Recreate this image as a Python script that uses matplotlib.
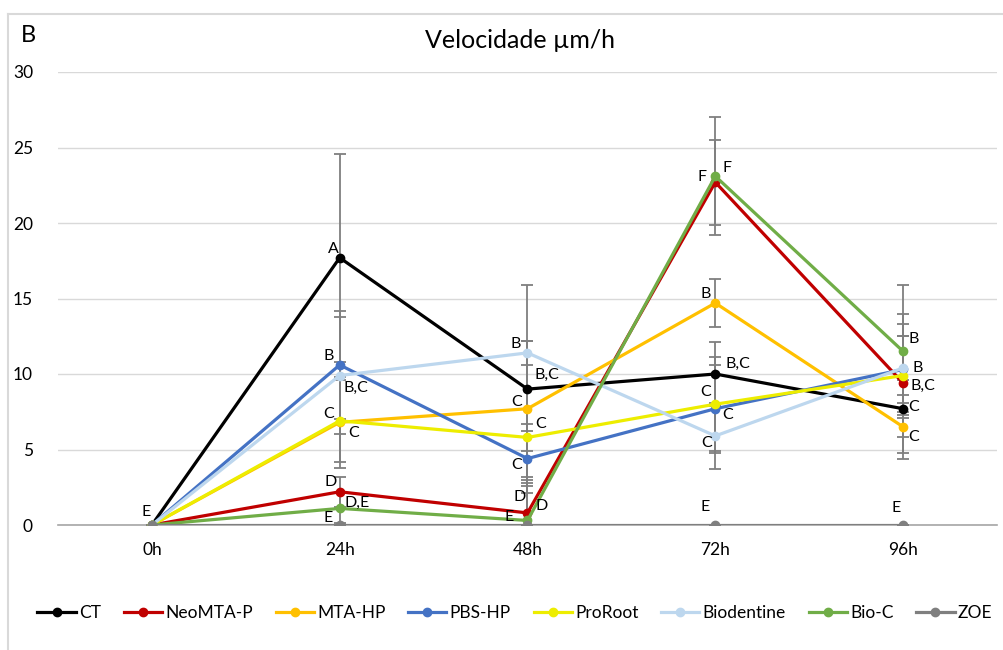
import matplotlib
matplotlib.use("Agg")
import matplotlib.pyplot as plt
from matplotlib.lines import Line2D
import numpy as np

plt.rcParams['font.family'] = ['Lato', 'DejaVu Sans']

categories = ['0h', '24h', '48h', '72h', '96h']
series_names = ['CT', 'NeoMTA-P', 'MTA-HP', 'PBS-HP', 'ProRoot', 'Biodentine', 'Bio-C', 'ZOE']

ct = [0.0, 17.7, 9.0, 10.0, 7.7]
neomta = [0.0, 2.2, 0.8, 22.7, 9.4]
mtahp = [0.0, 6.8, 7.7, 14.7, 6.5]
pbshp = [0.0, 10.6, 4.4, 7.7, 10.3]
proroot = [0.0, 6.9, 5.8, 8.0, 9.9]
biodentine = [0.0, 9.9, 11.4, 5.9, 10.4]
bioc = [0.0, 1.1, 0.3, 23.1, 11.5]
zoe = [0.0, 0.0, 0.0, 0.0, 0.0]

ct_err = [0.0, 6.9, 6.9, 2.1, 1.9]
neomta_err = [0.0, 1.0, 2.2, 2.8, 4.6]
mtahp_err = [0.0, 3.0, 4.5, 1.6, 2.1]
pbshp_err = [0.0, 3.6, 1.8, 2.9, 2.2]
proroot_err = [0.0, 2.7, 0.9, 3.1, 2.6]
biodentine_err = [0.0, 3.9, 0.8, 2.2, 2.9]
bioc_err = [0.0, 1.0, 2.5, 3.9, 4.4]
zoe_err = [0.0, 0.0, 0.0, 0.0, 0.0]

ct_lbl = [None, 'A', 'B,C', 'B,C', 'C']
neomta_lbl = [None, 'D', 'D', 'F', 'B,C']
mtahp_lbl = [None, 'C', 'C', 'B', 'C']
pbshp_lbl = [None, 'B', 'C', 'C', None]
proroot_lbl = [None, 'C', 'C', 'C', None]
biodentine_lbl = [None, 'B,C', 'B', 'C', 'B']
bioc_lbl = [None, 'D,E', 'D', 'F', 'B']
zoe_lbl = ['E', 'E', 'E', 'E', 'E']

values = [ct, neomta, mtahp, pbshp, proroot, biodentine, bioc, zoe]
errors = [ct_err, neomta_err, mtahp_err, pbshp_err, proroot_err, biodentine_err, bioc_err, zoe_err]
labels = [ct_lbl, neomta_lbl, mtahp_lbl, pbshp_lbl, proroot_lbl, biodentine_lbl, bioc_lbl, zoe_lbl]
colors = ['#000000', '#c00000', '#ffc000', '#4472c4', '#eded00', '#bdd7ee', '#70ad47', '#7f7f7f']

# label offsets in pixels (style only)
offsets = [
    [None, (-6, 9), (19, 14), (23, 10), (11, 2)],
    [None, (-9, 10), (-8, 16), (-13, 5), (20, -3)],
    [None, (14, -11), (-11, 7), (-10, 9), (11, -10)],
    [None, (-11, 9), (-11, -6), (12, -6), None],
    [None, (-11, 7), (13, 13), (-10, 12), None],
    [None, (16, -12), (-12, 9), (-9, -7), (15, 0)],
    [None, (17, 5), (14, 14), (12, 8), (11, 12)],
    [(-6, 13), (-12, 7), (-18, 8), (-10, 18), (-7, 17)],
]

fig = plt.figure(figsize=(10.04, 6.5), dpi=100)
ax = fig.add_axes([58/1004, 1-525/650, (997-58)/1004, (525-72)/650])

x = np.arange(len(categories))

for v, e in zip(values, errors):
    ax.errorbar(x, v, yerr=e, fmt='none', ecolor='#7f7f7f', elinewidth=1.3,
                capsize=4, capthick=1.3, zorder=2)

for i, (v, c, name) in enumerate(zip(values, colors, series_names)):
    ax.plot(x, v, color=c, lw=2.3, marker='o', ms=6, label=name, zorder=3+i)

for v, lbl, off in zip(values, labels, offsets):
    for xi, (val, t, o) in enumerate(zip(v, lbl, off)):
        if t is None:
            continue
        ax.annotate(t, (x[xi], val), xytext=o, textcoords='offset pixels',
                    ha='center', va='center', fontsize=11.5, color='#000000', zorder=20)

ax.set_xlim(-0.5, len(categories) - 0.5)
ax.set_ylim(0, 30)
ax.set_yticks([0, 5, 10, 15, 20, 25, 30])
ax.set_xticks(x)
ax.set_xticklabels(categories)
ax.grid(axis='y', color='#d9d9d9', lw=1)
ax.set_axisbelow(True)
for s in ['top', 'right', 'left']:
    ax.spines[s].set_visible(False)
ax.spines['bottom'].set_color('#a6a6a6')
ax.spines['bottom'].set_linewidth(1.2)
ax.spines['bottom'].set_zorder(1)
ax.tick_params(axis='both', length=0, labelsize=12.5, colors='#000000')
ax.tick_params(axis='x', pad=12)
ax.tick_params(axis='y', pad=18)

fig.text(520/1004, 1-40/650, 'Velocidade µm/h', ha='center', va='center', fontsize=18)
fig.text(28/1004, 1-36/650, 'B', ha='center', va='center', fontsize=17)

leg = fig.legend(loc='center', bbox_to_anchor=(515/1004, 1-613/650), ncol=8, frameon=False,
                 fontsize=12.5, handlelength=2.2, handletextpad=0.2, columnspacing=1.3)

# chart border
fig.add_artist(Line2D([8/1004, 8/1004], [0, 1-14/650], color='#d9d9d9', lw=1.5, transform=fig.transFigure))
fig.add_artist(Line2D([8/1004, 1], [1-14/650, 1-14/650], color='#d9d9d9', lw=1.5, transform=fig.transFigure))

fig.savefig('out.png', dpi=100)
